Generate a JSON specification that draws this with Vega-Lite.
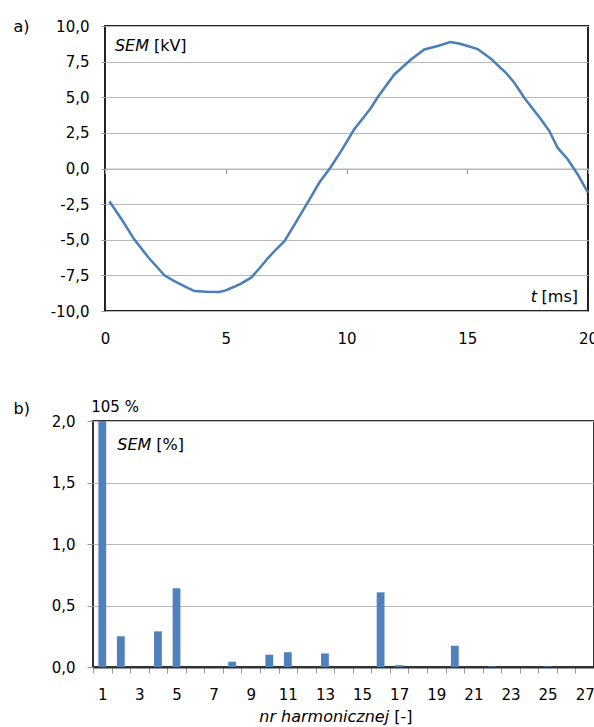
{
  "$schema": "https://vega.github.io/schema/vega-lite/v6.json",
  "padding": {"left": 12, "top": 17, "right": 0, "bottom": 0},
  "config": {
    "font": "DejaVu Sans",
    "view": {"stroke": "#222", "strokeWidth": 2},
    "scale": {"bandPaddingInner": 0, "bandPaddingOuter": 0},
    "axis": {"labelColor": "#000", "titleColor": "#000", "labelFontSize": 15, "titleFontWeight": "normal", "titleFontSize": 16, "gridColor": "#b8b8b8", "tickColor": "#999", "labelOverlap": false}
  },
  "spacing": 51,
  "vconcat": [
    {"hconcat": [
    {
      "width": 2,
      "height": 2,
      "view": {"stroke": null},
      "data": {"values": [{}]},
      "mark": {"type": "point", "opacity": 0},
      "encoding": {}
    },
    {
      "width": 483,
      "height": 285,
      "layer": [
        {
          "data": {"values": [
            {"t": 0.18, "v": -2.3}, {"t": 0.7, "v": -3.6}, {"t": 1.21, "v": -4.97}, {"t": 1.8, "v": -6.25},
            {"t": 2.46, "v": -7.5}, {"t": 2.87, "v": -7.9}, {"t": 3.28, "v": -8.25}, {"t": 3.7, "v": -8.6},
            {"t": 4.2, "v": -8.65}, {"t": 4.73, "v": -8.67}, {"t": 5.0, "v": -8.55}, {"t": 5.35, "v": -8.3},
            {"t": 5.63, "v": -8.08}, {"t": 6.05, "v": -7.66}, {"t": 6.4, "v": -7.0}, {"t": 6.74, "v": -6.3},
            {"t": 7.1, "v": -5.65}, {"t": 7.43, "v": -5.1}, {"t": 7.84, "v": -3.95}, {"t": 8.39, "v": -2.4},
            {"t": 8.87, "v": -1.0}, {"t": 9.33, "v": 0.05}, {"t": 9.77, "v": 1.2}, {"t": 10.32, "v": 2.75},
            {"t": 10.6, "v": 3.35}, {"t": 11.01, "v": 4.25}, {"t": 11.29, "v": 5.0}, {"t": 11.98, "v": 6.6},
            {"t": 12.67, "v": 7.65}, {"t": 13.22, "v": 8.35}, {"t": 13.78, "v": 8.6}, {"t": 14.3, "v": 8.88},
            {"t": 14.7, "v": 8.75}, {"t": 15.02, "v": 8.6}, {"t": 15.43, "v": 8.38}, {"t": 15.98, "v": 7.7},
            {"t": 16.6, "v": 6.72}, {"t": 16.95, "v": 6.02}, {"t": 17.36, "v": 4.97}, {"t": 18.05, "v": 3.45},
            {"t": 18.4, "v": 2.63}, {"t": 18.74, "v": 1.46}, {"t": 19.16, "v": 0.65}, {"t": 19.57, "v": -0.4},
            {"t": 20.0, "v": -1.7}
          ]},
          "mark": {"type": "line", "color": "#4a7ebb", "strokeWidth": 2.5},
          "encoding": {
            "x": {"field": "t", "type": "quantitative",
              "scale": {"domain": [0, 20], "nice": false, "zero": false},
              "axis": {"values": [0, 5, 10, 15, 20], "offset": -142.5, "domainColor": "#b8b8b8", "domainWidth": 1,
                "tickSize": 5, "labelPadding": 158, "labelFlush": false, "title": null, "grid": false}},
            "y": {"field": "v", "type": "quantitative",
              "scale": {"domain": [-10, 10], "nice": false},
              "axis": {"values": [-10, -7.5, -5, -2.5, 0, 2.5, 5, 7.5, 10],
                "labelExpr": "replace(replace(format(datum.value, '.1f'), '.', ','), '\u2212', '-')",
                "grid": true, "domain": false, "tickSize": 4, "labelPadding": 12,
                "title": "a)", "titleAngle": 0, "titleAlign": "left", "titleBaseline": "alphabetic",
                "titleX": -92, "titleY": 5}}
          }
        },
        {
          "data": {"values": [{"label": "SEM"}]},
          "mark": {"type": "text", "fontStyle": "italic", "fontSize": 16, "align": "left", "baseline": "alphabetic"},
          "encoding": {"x": {"datum": 0.41, "type": "quantitative"}, "y": {"datum": 8.25, "type": "quantitative", "axis": {"values": [-10, -7.5, -5, -2.5, 0, 2.5, 5, 7.5, 10]}}, "text": {"field": "label", "type": "nominal"}}
        },
        {
          "data": {"values": [{"label": "[kV]"}]},
          "mark": {"type": "text", "fontSize": 16, "align": "left", "baseline": "alphabetic", "dx": 39},
          "encoding": {"x": {"datum": 0.41, "type": "quantitative"}, "y": {"datum": 8.25, "type": "quantitative", "axis": {"values": [-10, -7.5, -5, -2.5, 0, 2.5, 5, 7.5, 10]}}, "text": {"field": "label", "type": "nominal"}}
        },
        {
          "data": {"values": [{"label": "t"}]},
          "mark": {"type": "text", "fontStyle": "italic", "fontSize": 16, "align": "right", "baseline": "alphabetic", "dx": -51},
          "encoding": {"x": {"datum": 20, "type": "quantitative"}, "y": {"datum": -9.35, "type": "quantitative", "axis": {"values": [-10, -7.5, -5, -2.5, 0, 2.5, 5, 7.5, 10]}}, "text": {"field": "label", "type": "nominal"}}
        },
        {
          "data": {"values": [{"label": "[ms]"}]},
          "mark": {"type": "text", "fontSize": 16, "align": "right", "baseline": "alphabetic", "dx": -10},
          "encoding": {"x": {"datum": 20, "type": "quantitative"}, "y": {"datum": -9.35, "type": "quantitative", "axis": {"values": [-10, -7.5, -5, -2.5, 0, 2.5, 5, 7.5, 10]}}, "text": {"field": "label", "type": "nominal"}}
        }
      ]
    }], "spacing": 10, "bounds": "flush"},
    {
      "width": 501,
      "height": 246,
      "view": {"stroke": "#333", "strokeWidth": 2},
      "layer": [
        {
          "data": {"values": [
            {"h": 1, "v": 105}, {"h": 2, "v": 0.25}, {"h": 3, "v": 0}, {"h": 4, "v": 0.29},
            {"h": 5, "v": 0.64}, {"h": 6, "v": 0}, {"h": 7, "v": 0}, {"h": 8, "v": 0.043},
            {"h": 9, "v": 0}, {"h": 10, "v": 0.1}, {"h": 11, "v": 0.12}, {"h": 12, "v": 0},
            {"h": 13, "v": 0.11}, {"h": 14, "v": 0}, {"h": 15, "v": 0}, {"h": 16, "v": 0.607},
            {"h": 17, "v": 0.015}, {"h": 18, "v": 0}, {"h": 19, "v": 0}, {"h": 20, "v": 0.173},
            {"h": 21, "v": 0}, {"h": 22, "v": 0.005}, {"h": 23, "v": 0}, {"h": 24, "v": 0},
            {"h": 25, "v": 0.005}, {"h": 26, "v": 0}, {"h": 27, "v": 0}
          ]},
          "mark": {"type": "bar", "color": "#4f81bd", "width": {"band": 0.42}, "clip": true},
          "encoding": {
            "x": {"field": "h", "type": "ordinal",
              "axis": {"labelAngle": 0, "labelExpr": "datum.value % 2 == 1 ? datum.label : ''",
                "tickBand": "extent", "tickSize": 6, "domainColor": "#333", "domainWidth": 2,
                "labelPadding": 14, "title": null}},
            "y": {"field": "v", "type": "quantitative",
              "scale": {"domain": [0, 2], "nice": false},
              "axis": {"values": [0, 0.5, 1, 1.5, 2],
                "labelExpr": "replace(format(datum.value, '.1f'), '.', ',')",
                "grid": true, "domain": false, "tickSize": 6, "labelPadding": 12,
                "title": "b)", "titleAngle": 0, "titleAlign": "left", "titleBaseline": "alphabetic",
                "titleX": -80, "titleY": -8}}
          }
        },
        {
          "data": {"values": [{"label": "105 %"}]},
          "mark": {"type": "text", "fontSize": 15, "align": "left", "baseline": "alphabetic", "dx": -11, "dy": -9},
          "encoding": {"x": {"datum": 1, "type": "ordinal"}, "y": {"datum": 2, "type": "quantitative"}, "text": {"field": "label", "type": "nominal"}}
        },
        {
          "data": {"values": [{"label": "SEM"}]},
          "mark": {"type": "text", "fontStyle": "italic", "fontSize": 16, "align": "left", "baseline": "alphabetic", "dx": 15},
          "encoding": {"x": {"datum": 1, "type": "ordinal"}, "y": {"datum": 1.764, "type": "quantitative"}, "text": {"field": "label", "type": "nominal"}}
        },
        {
          "data": {"values": [{"label": "[%]"}]},
          "mark": {"type": "text", "fontSize": 16, "align": "left", "baseline": "alphabetic", "dx": 54},
          "encoding": {"x": {"datum": 1, "type": "ordinal"}, "y": {"datum": 1.764, "type": "quantitative"}, "text": {"field": "label", "type": "nominal"}}
        },
        {
          "data": {"values": [{"label": "nr harmonicznej"}]},
          "mark": {"type": "text", "fontStyle": "italic", "fontSize": 16, "align": "right", "baseline": "alphabetic", "dx": -10},
          "encoding": {"x": {"datum": 17, "type": "ordinal"}, "y": {"datum": -0.447, "type": "quantitative"}, "text": {"field": "label", "type": "nominal"}}
        },
        {
          "data": {"values": [{"label": "[-]"}]},
          "mark": {"type": "text", "fontSize": 16, "align": "left", "baseline": "alphabetic", "dx": -5},
          "encoding": {"x": {"datum": 17, "type": "ordinal"}, "y": {"datum": -0.447, "type": "quantitative"}, "text": {"field": "label", "type": "nominal"}}
        }
      ]
    }
  ]
}
